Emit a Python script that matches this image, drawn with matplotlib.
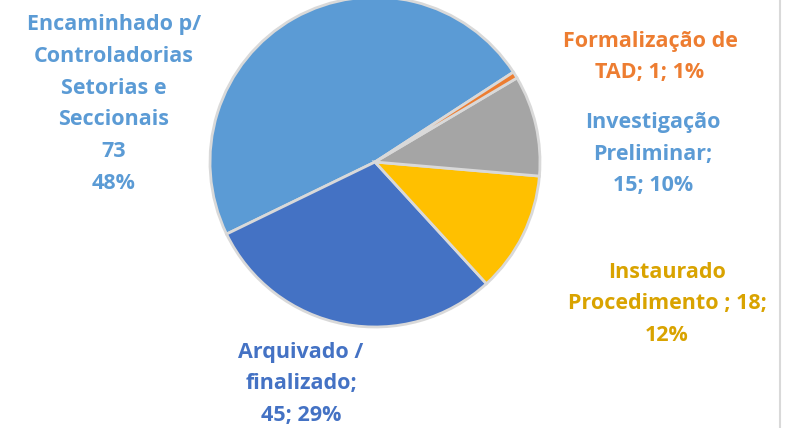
import matplotlib.pyplot as plt
from matplotlib.lines import Line2D

plt.rcParams['font.family'] = ['Open Sans', 'DejaVu Sans']

categories = ['Encaminhado p/\nControladorias\nSetorias e\nSeccionais',
              'Arquivado /\nfinalizado;',
              'Instaurado\nProcedimento ;',
              'Investigação\nPreliminar;',
              'Formalização de\nTAD;']
values = [73, 45, 18, 15, 1]
percents = [48, 29, 12, 10, 1]
slice_colors = ['#5B9BD5', '#4472C4', '#FFC000', '#A5A5A5', '#ED7D31']
label_colors = ['#5B9BD5', '#4472C4', '#D9A300', '#5B9BD5', '#ED7D31']

labels = [
    '%s\n%d\n%d%%' % (categories[0], values[0], percents[0]),
    '%s\n%d; %d%%' % (categories[1], values[1], percents[1]),
    '%s %d;\n%d%%' % (categories[2], values[2], percents[2]),
    '%s\n%d; %d%%' % (categories[3], values[3], percents[3]),
    '%s %d; %d%%' % (categories[4], values[4], percents[4]),
]
# label centres in pixels from top-left
label_pos = [(114, 104), (301, 384), (667, 304), (653, 154), (650, 57)]

W, H = 806, 428
fig = plt.figure(figsize=(W / 100, H / 100), dpi=100)
ax = fig.add_axes([0, 0, 1, 1])

ax.pie(values, colors=slice_colors, startangle=33, counterclock=True,
       center=(375, H - 162), radius=165, frame=True,
       wedgeprops=dict(edgecolor='#D9D9D9', linewidth=2))
ax.set_xlim(0, W)
ax.set_ylim(0, H)
ax.set_aspect('equal')
ax.axis('off')

for txt, pos, c in zip(labels, label_pos, label_colors):
    ax.text(pos[0], H - pos[1], txt, color=c, fontsize=15.5, fontweight='bold',
            ha='center', va='center', linespacing=1.68)

fig.add_artist(Line2D([780 / W, 780 / W], [0, 1], color='#D9D9D9', linewidth=1.5))

plt.savefig('out.png', dpi=100)
